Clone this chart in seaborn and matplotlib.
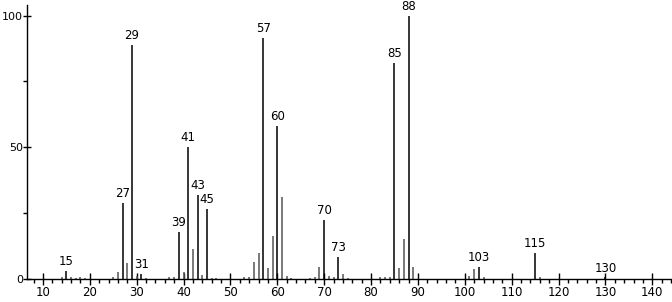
import matplotlib
matplotlib.use("Agg")
import matplotlib.pyplot as plt
import seaborn as sns
import pandas as pd
from matplotlib.ticker import MultipleLocator

mz = [14, 15, 16, 17, 18, 19, 25, 26, 27, 28, 29, 30, 31, 32, 37, 38, 39, 40, 41, 42,
      43, 44, 45, 46, 47, 53, 54, 55, 56, 57, 58, 59, 60, 61, 62, 63, 67, 68, 69, 70,
      71, 72, 73, 74, 75, 82, 83, 84, 85, 86, 87, 88, 89, 101, 102, 103, 104, 115, 116, 130]
intensity = [0.6, 3.0, 0.6, 0.5, 0.6, 0.5, 0.8, 2.7, 29.0, 6.0, 89.0, 1.2, 2.0, 0.5, 0.6, 0.8, 18.0, 2.7, 50.0, 11.4,
             32.0, 1.5, 26.6, 0.5, 0.5, 0.7, 0.8, 6.4, 9.8, 91.6, 4.0, 16.4, 58.0, 31.3, 1.0, 0.4, 0.5, 0.6, 4.5, 22.4,
             1.3, 0.6, 8.3, 1.8, 0.5, 0.6, 0.9, 0.6, 82.0, 4.0, 15.3, 100.0, 4.5, 1.2, 3.8, 4.5, 0.7, 10.0, 0.6, 0.6]
labeled = [15, 27, 29, 31, 39, 41, 43, 45, 57, 60, 70, 73, 85, 88, 103, 115, 130]

df = pd.DataFrame({"mz": mz, "intensity": intensity})
df["labeled"] = df["mz"].isin(labeled)

sns.set_style("ticks")
plt.rcParams["font.family"] = ["DejaVu Sans"]

fig = plt.figure(figsize=(6.72, 3.02), dpi=100)
ax = fig.add_axes([27 / 672, 23 / 302, 644 / 672, 274 / 302])

for is_lab, sub in df.groupby("labeled"):
    ax.vlines(sub["mz"], 0, sub["intensity"], colors="black" if is_lab else "#555555",
              linewidth=1.1)

for m, v in zip(df["mz"], df["intensity"]):
    if m in labeled:
        ax.annotate(str(m), (m, v), xytext=(0, 2), textcoords="offset points",
                    ha="center", va="bottom", fontsize=8.5, color="black")

ax.set_xlim(6.6, 144)
ax.set_ylim(0, 104)
ax.xaxis.set_major_locator(MultipleLocator(10))
ax.xaxis.set_minor_locator(MultipleLocator(2))
ax.yaxis.set_major_locator(MultipleLocator(50))
ax.yaxis.set_minor_locator(MultipleLocator(25))
ax.tick_params(axis="x", which="major", direction="inout", length=8, width=1, labelsize=8.5, pad=1, colors="black")
ax.tick_params(axis="x", which="minor", direction="out", length=3, width=1, colors="black")
ax.tick_params(axis="y", which="major", direction="inout", length=6, width=1, labelsize=8, pad=0, colors="black")
ax.tick_params(axis="y", which="minor", direction="out", length=3, width=1, colors="black")
sns.despine(ax=ax, top=True, right=True)
for s in ["left", "bottom"]:
    ax.spines[s].set_color("black")
    ax.spines[s].set_linewidth(1)
ax.set_xlabel("")
ax.set_ylabel("")

fig.savefig("out.png", dpi=100, facecolor="white")
